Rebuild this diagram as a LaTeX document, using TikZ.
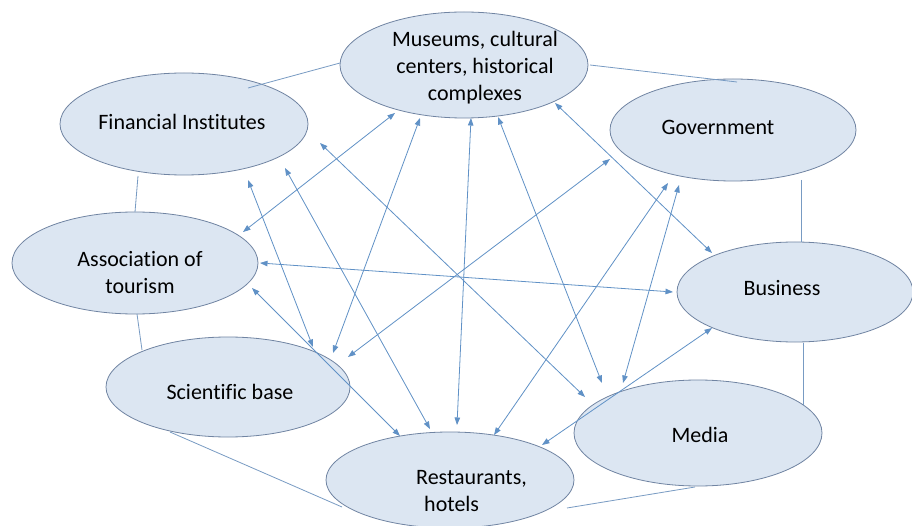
\documentclass[tikz,border=0pt]{standalone}
\usepackage{fontspec}
\setmainfont{Carlito}[Ligatures=NoCommon,RawFeature=-liga]
\usetikzlibrary{shapes.geometric,arrows.meta}
\definecolor{efill}{RGB}{220,230,242}
\definecolor{edraw}{RGB}{112,132,162}
\definecolor{acol}{RGB}{96,145,198}
\definecolor{lcol}{RGB}{120,155,195}
\tikzset{
  oval/.style={ellipse,draw=edraw,fill=efill,line width=0.8pt,inner sep=0pt},
  lbl/.style={font=\fontsize{22}{27}\selectfont,align=center,inner sep=0pt,text=black},
  biarrow/.style={draw=acol,line width=0.8pt,{Triangle[length=7.5pt,width=5.5pt]}-{Triangle[length=7.5pt,width=5.5pt]}},
  plain/.style={draw=lcol,line width=0.8pt}
}
\begin{document}
\begin{tikzpicture}[x=1pt,y=-1pt]
\useasboundingbox[fill=white] (0,0) rectangle (912,526);
% ellipses
\node[oval,minimum width=248pt,minimum height=106pt] (mus) at (464,65) {};
\node[oval,minimum width=248pt,minimum height=102pt] (fin) at (184,124) {};
\node[oval,minimum width=246pt,minimum height=102pt] (gov) at (733,130) {};
\node[oval,minimum width=236pt,minimum height=100pt] (bus) at (795,292) {};
\node[oval,minimum width=246pt,minimum height=102pt] (assoc) at (135,263) {};
\node[oval,minimum width=244pt,minimum height=100pt] (sci) at (228,387) {};
\node[oval,minimum width=248pt,minimum height=96pt] (rest) at (450,480) {};
\node[oval,minimum width=248pt,minimum height=106pt] (med) at (698,433) {};
% labels
\node[lbl] (musT) at (475,68) {Museums, cultural\\centers, historical\\complexes};
\node[lbl] (finT) at (182,122) {Financial Institutes};
\node[lbl] (govT) at (718,127) {Government};
\node[lbl] (busT) at (782,288) {Business};
\node[lbl] (assocT) at (140,273) {Association of\\tourism};
\node[lbl] (sciT) at (230,392) {Scientific base};
\node[lbl,align=left,anchor=west] (restT) at (416,491) {Restaurants,\\\hspace*{8pt}hotels};
\node[lbl] (medT) at (700,435) {Media};
% plain links
\draw[plain] ([shift={(64,-36)}]fin.center) -- ([shift={(-124,-2)}]mus.center);
\draw[plain] ([shift={(126,0)}]mus.center) -- ([shift={(4,-48)}]gov.center);
\draw[plain] ([shift={(68,50)}]gov.center) -- ([shift={(6,-50)}]bus.center);
\draw[plain] ([shift={(8,51)}]bus.center) -- ([shift={(105,-28)}]med.center);
\draw[plain] ([shift={(-46,52)}]fin.center) -- ([shift={(0,-51)}]assoc.center);
\draw[plain] ([shift={(2,51)}]assoc.center) -- ([shift={(-86,-37)}]sci.center);
\draw[plain] ([shift={(-58,45)}]sci.center) -- ([shift={(-108,27)}]rest.center);
\draw[plain] ([shift={(117,28)}]rest.center) -- ([shift={(-3,54)}]med.center);
% two-way arrows
\draw[biarrow] ([shift={(-69,48)}]mus.center) -- ([shift={(108,-31)}]assoc.center);
\draw[biarrow] ([shift={(-44,53)}]mus.center) -- ([shift={(105,-34)}]sci.center);
\draw[biarrow] ([shift={(136,19)}]fin.center) -- ([shift={(-113,-36)}]med.center);
\draw[biarrow] ([shift={(101,44)}]fin.center) -- ([shift={(-20,-51)}]rest.center);
\draw[biarrow] ([shift={(64,56)}]fin.center) -- ([shift={(85,-40)}]sci.center);
\draw[biarrow] ([shift={(-123,29)}]gov.center) -- ([shift={(120,-30)}]sci.center);
\draw[biarrow] ([shift={(91,38)}]mus.center) -- ([shift={(-83,-39)}]bus.center);
\draw[biarrow] ([shift={(7,53)}]mus.center) -- ([shift={(7,-55)}]rest.center);
\draw[biarrow] ([shift={(34,52)}]mus.center) -- ([shift={(-96,-50)}]med.center);
\draw[biarrow] ([shift={(-54,55)}]gov.center) -- ([shift={(-75,-50)}]med.center);
\draw[biarrow] ([shift={(-65,53)}]gov.center) -- ([shift={(44,-45)}]rest.center);
\draw[biarrow] ([shift={(-83,36)}]bus.center) -- ([shift={(92,-35)}]rest.center);
\draw[biarrow] ([shift={(117,25)}]assoc.center) -- ([shift={(-50,-44)}]rest.center);
\draw[biarrow] ([shift={(125,0)}]assoc.center) -- ([shift={(-122,0)}]bus.center);
\end{tikzpicture}
\end{document}
